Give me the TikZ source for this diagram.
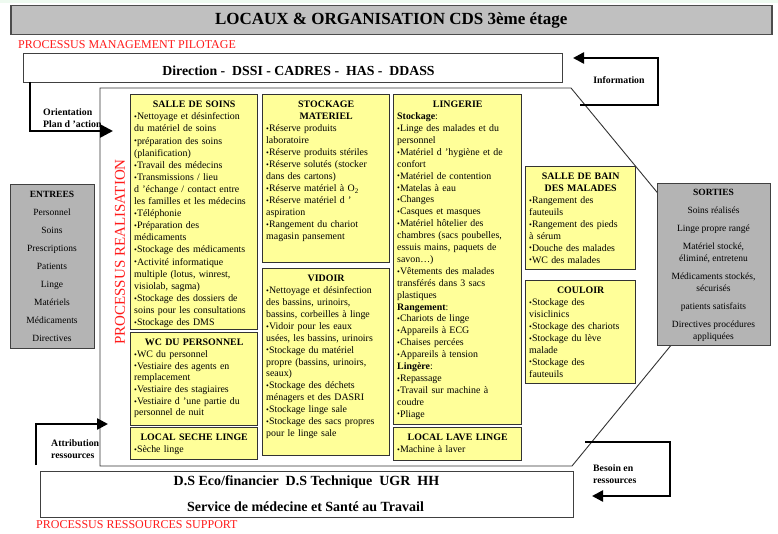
\documentclass[tikz,border=0pt]{standalone}
\usepackage{fontspec}
\usepackage{graphicx}
\setmainfont{Liberation Serif}
\usetikzlibrary{arrows.meta}
\definecolor{ylw}{HTML}{FFFF99}
\definecolor{gry}{HTML}{B4B4B4}
\definecolor{tgry}{HTML}{C0C0C0}
\definecolor{topg}{HTML}{EEFAF0}
\definecolor{rdc}{HTML}{FF1A1A}
\newcommand\bu{{\fontsize{8}{8}\selectfont\raisebox{0.05ex}{•}}}
\newcommand\ttl[1]{\makebox[\linewidth][c]{\textbf{#1}}}
\newcommand\ybx[7]{%
  \node[ybox, minimum width=#4pt, minimum height=#5pt] (#1) at (#2,#3) {};
  \pgfmathsetlengthmacro\ybxtw{#4-7}%
  \node[ytxt, text width=\ybxtw, font=\fontsize{9.9}{#6}\selectfont] (#1t) at (#2+4,#3+7) {#7};
}
\begin{document}
\begin{tikzpicture}[x=1pt,y=-1pt,
  ybox/.style={draw=black!80, line width=0.9pt, fill=ylw, anchor=north west, inner sep=0pt, outer sep=0pt},
  ytxt/.style={anchor=north west, inner sep=0pt, align=left},
  gbox/.style={draw=black!75, line width=1pt, fill=gry, anchor=north west, inner sep=0pt},
  wbox/.style={draw=black!75, line width=1pt, fill=white, anchor=north west, inner sep=0pt},
  thickarr/.style={line width=2.6pt, -{Triangle[length=13pt,width=13pt]}},
  thinarr/.style={line width=2.4pt, -{Triangle[length=11pt,width=11pt]}},
  lbl/.style={font=\fontsize{9.8}{11.5}\selectfont\bfseries, align=left, inner sep=0pt, anchor=west},
  redlbl/.style={font=\fontsize{12}{14}\selectfont, text=rdc, inner sep=0pt, anchor=west},
  bigtxt/.style={font=\fontsize{14}{16}\selectfont\bfseries, inner sep=0pt},
  gtxt/.style={font=\fontsize{9.5}{12}\selectfont, align=center, inner sep=0pt}
]
\useasboundingbox (0,0) rectangle (778,534);
\fill[topg] (0,0) rectangle (778,3.5);

% title
\node[draw=black!70, line width=1.5pt, fill=tgry, anchor=north west, inner sep=0pt,
      minimum width=761pt, minimum height=29pt] (title) at (10,5) {};
\node[font=\fontsize{17}{20}\selectfont\bfseries, inner sep=0pt] (titlet) at (title.center) {LOCAUX \& ORGANISATION CDS 3ème étage};

\node[redlbl] (pmp) at (18,45) {PROCESSUS MANAGEMENT PILOTAGE};

% direction box
\node[wbox, minimum width=539pt, minimum height=29pt] (dir) at (23,53) {};
\node[bigtxt, font=\fontsize{13.8}{16}\selectfont\bfseries] (dirt) at (298.5,70.5) {Direction -\ \ DSSI - CADRES -\ \ HAS -\ \ DDASS};

% process outline
\draw[black!80, line width=0.9pt] (100,88) -- (571,88) -- (727,277) -- (572,466) -- (100,466) -- cycle;

\node[font=\fontsize{15}{18}\selectfont, text=rdc, rotate=90, inner sep=0pt] (preal) at (120,252) {PROCESSUS REALISATION};

% yellow boxes
\ybx{soins}{130}{94}{127}{235}{12.1}{\ttl{SALLE DE SOINS}\\
\bu Nettoyage et désinfection\\ du matériel de soins\\
\bu préparation des soins\\ (planification)\\
\bu Travail des médecins\\
\bu Transmissions / lieu\\ d ’échange / contact entre\\ les familles et les médecins\\
\bu Téléphonie\\
\bu Préparation des\\ médicaments\\
\bu Stockage des médicaments\\
\bu Activité informatique\\ multiple (lotus, winrest,\\ visiolab, sagma)\\
\bu Stockage des dossiers de\\ soins pour les consultations\\
\bu Stockage des DMS}

\ybx{wc}{130}{332}{127}{93}{11.7}{\ttl{WC DU PERSONNEL}\\
\bu WC du personnel\\
\bu Vestiaire des agents en\\ remplacement\\
\bu Vestiaire des stagiaires\\
\bu Vestiaire d ’une partie du\\ personnel de nuit}

\ybx{seche}{130}{427}{127}{32}{11.5}{\ttl{LOCAL SECHE LINGE}\\
\bu Sèche linge}

\ybx{stock}{262}{94}{127}{168}{12.0}{\ttl{STOCKAGE}\\ \ttl{MATERIEL}\\
\bu Réserve produits\\ laboratoire\\
\bu Réserve produits stériles\\
\bu Réserve solutés (stocker\\ dans des cartons)\\
\bu Réserve matériel à O\textsubscript{2}\\
\bu Réserve matériel d ’\\ aspiration\\
\bu Rangement du chariot\\ magasin pansement}

\ybx{vidoir}{262}{268}{127}{187}{11.9}{\ttl{VIDOIR}\\
\bu Nettoyage et désinfection\\ des bassins, urinoirs,\\ bassins, corbeilles à linge\\
\bu Vidoir pour les eaux\\ usées, les bassins, urinoirs\\
\bu Stockage du matériel\\ propre (bassins, urinoirs,\\ seaux)\\
\bu Stockage des déchets\\ ménagers et des DASRI\\
\bu Stockage linge sale\\
\bu Stockage des sacs propres\\ pour le linge sale}

\ybx{linge}{393}{94}{128}{330}{11.9}{\ttl{LINGERIE}\\
\textbf{Stockage}:\\
\bu Linge des malades et du\\ personnel\\
\bu Matériel d ’hygiène et de\\ confort\\
\bu Matériel de contention\\
\bu Matelas à eau\\
\bu Changes\\
\bu Casques et masques\\
\bu Matériel hôtelier des\\ chambres (sacs poubelles,\\ essuis mains, paquets de\\ savon…)\\
\bu Vêtements des malades\\ transférés dans 3 sacs\\ plastiques\\
\textbf{Rangement}:\\
\bu Chariots de linge\\
\bu Appareils à ECG\\
\bu Chaises percées\\
\bu Appareils à tension\\
\textbf{Lingère}:\\
\bu Repassage\\
\bu Travail sur machine à\\ coudre\\
\bu Pliage}

\ybx{lave}{393}{427}{128}{33}{11.5}{\ttl{LOCAL LAVE LINGE}\\
\bu Machine à laver}

\ybx{bain}{525}{166}{110}{103}{11.9}{\ttl{SALLE DE BAIN}\\ \ttl{DES MALADES}\\
\bu Rangement des\\ fauteuils\\
\bu Rangement des pieds\\ à sérum\\
\bu Douche des malades\\
\bu WC des malades}

\ybx{couloir}{525}{280}{110}{103}{11.9}{\ttl{COULOIR}\\
\bu Stockage des\\ visiclinics\\
\bu Stockage des chariots\\
\bu Stockage du lève\\ malade\\
\bu Stockage des\\ fauteuils}

% entrees / sorties
\node[gbox, minimum width=84pt, minimum height=164pt] (entrees) at (10,184) {};
\node[gtxt] (entreest) at (52,266) {\textbf{ENTREES}\\[6pt] Personnel\\[6pt] Soins\\[6pt] Prescriptions\\[6pt] Patients\\[6pt] Linge\\[6pt] Matériels\\[6pt] Médicaments\\[6pt] Directives};

\node[gbox, minimum width=113pt, minimum height=162pt] (sorties) at (657,183) {};
\node[gtxt] (sortiest) at (713.5,265) {\textbf{SORTIES}\\[6pt] Soins réalisés\\[6pt] Linge propre rangé\\[6pt] Matériel stocké,\\ éliminé, entretenu\\[6pt] Médicaments stockés,\\ sécurisés\\[6pt] patients satisfaits\\[6pt] Directives procédures\\ appliquées};

% support box
\node[wbox, minimum width=533pt, minimum height=46pt] (supp) at (40,471) {};
\node[bigtxt] (suppa) at (306.5,482.5) {D.S Eco/financier\ \ D.S Technique\ \ UGR\ \ HH};
\node[bigtxt] (suppb) at (305.5,507) {Service de médecine et Santé au Travail};

\node[redlbl] (prs) at (36,525) {PROCESSUS RESSOURCES SUPPORT};

% arrows
\coordinate (o1) at (30,82);
\coordinate (o2) at (113,131);
\draw[thickarr] (o1) |- (o2);
\node[lbl] (orient) at (43,118) {Orientation\\Plan d ’action};

\coordinate (i1) at (580,105);
\coordinate (i2) at (658,58);
\coordinate (i3) at (573,58);
\draw[thinarr] (i1) -| (i2) -- (i3);
\node[lbl, anchor=center] (info) at (619,80) {Information};

\coordinate (a1) at (36,465);
\coordinate (a2) at (108,424);
\draw[thinarr] (a1) |- (a2);
\node[lbl] (attr) at (51,449) {Attribution\\ressources};

\coordinate (b1) at (585,442);
\coordinate (b2) at (670,496);
\coordinate (b3) at (592,496);
\draw[thinarr] (b1) -| (b2) -- (b3);
\node[lbl] (besoin) at (593,474) {Besoin en\\ressources};
\end{tikzpicture}
\end{document}
